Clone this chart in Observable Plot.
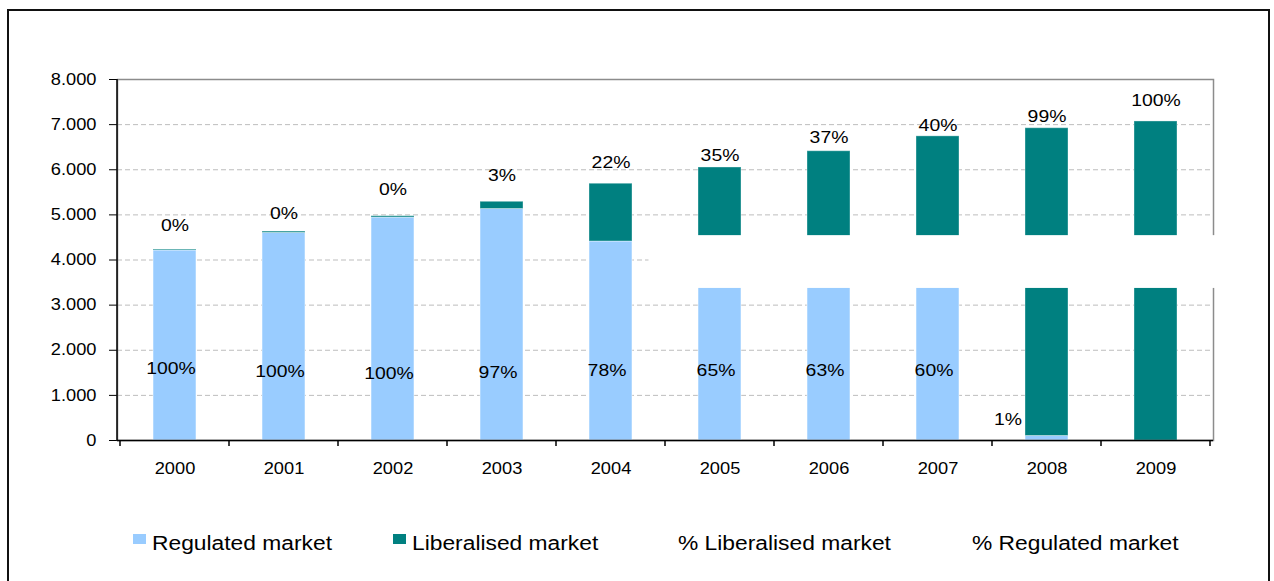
<!DOCTYPE html>
<html>
<head>
<meta charset="utf-8">
<script src="https://cdn.jsdelivr.net/npm/d3@7"></script>
<script src="https://cdn.jsdelivr.net/npm/@observablehq/plot@0.6"></script>
<style>
  body { margin: 0; background: #fff; font-family: "Liberation Sans", Arial, sans-serif; }
  #wrap { position: relative; width: 1274px; height: 581px; overflow: hidden; background: #fff; }
  #border { position: absolute; left: 7px; top: 9px; width: 1263px; height: 590px; border: 2px solid #111; box-sizing: border-box; }
  #chart { position: absolute; left: 0; top: 0; }
  .sw { position: absolute; width: 13px; height: 10px; top: 534px; }
  .lt { position: absolute; top: 533px; font-size: 20px; line-height: 20px; color: #000; white-space: nowrap;
        transform: scaleX(1.14); transform-origin: left center; }
</style>
</head>
<body>
<div id="wrap">
  <div id="border"></div>
  <div id="chart"></div>
  <div id="legend"></div>
</div>
<script>
// ---- data ----
const years = ["2000", "2001", "2002", "2003", "2004", "2005", "2006", "2007", "2008", "2009"];
const regulated   = [4210, 4600, 4940, 5130, 4410, 3930, 4040, 4040, 100, 0];
const liberalised = [20, 30, 30, 160, 1280, 2120, 2370, 2700, 6820, 7070];
const libShare = [0, 0, 0, 3, 22, 35, 37, 40, 99, 100];   // % Liberalised market
const regShare = [100, 100, 100, 97, 78, 65, 63, 60, 1, 0]; // % Regulated market
// values of the (invisible) percentage line series on which the labels sit
const libLabelPos = [4770, 5040, 5565, 5880, 6160, 6320, 6720, 6985, 7170, 7540];
const regLabelPos = [1600, 1530, 1490, 1510, 1550, 1550, 1550, 1550, 470, 470];
const yTicks = [0, 1000, 2000, 3000, 4000, 5000, 6000, 7000, 8000];
const axisBreak = [3370, 4540];          // scale break shown from 2005 on
const breakStartYear = "2005";
const seriesNames = ["Regulated market", "Liberalised market", "% Liberalised market", "% Regulated market"];
const seriesColors = ["#99CCFF", "#008080", null, null];

const rows = years.map((year, i) => ({
  year,
  reg: regulated[i],
  total: regulated[i] + liberalised[i],
  libShare: libShare[i],
  regShare: regShare[i],
  libPos: libLabelPos[i],
  regPos: regLabelPos[i]
}));

const fmt = d => d3.format(",")(d).replace(/,/g, ".");

const plot = Plot.plot({
  width: 1274,
  height: 500,
  marginLeft: 117,
  marginRight: 61,
  marginTop: 79,
  marginBottom: 60,
  style: { fontFamily: "'Liberation Sans', Arial, sans-serif", fontSize: "16px", color: "#000", background: "transparent", overflow: "visible" },
  x: { domain: years, paddingInner: 0.61, paddingOuter: 0.305, tickSize: 0, tickPadding: 22, label: null },
  y: { domain: [0, 8000], ticks: 8, tickSize: 8, tickPadding: 13, tickFormat: fmt, label: null },
  marks: [
    Plot.gridY(yTicks.filter(d => d > 0 && d < 8000), { stroke: "#bdbdbd", strokeOpacity: 1, strokeDasharray: "5,3", strokeWidth: 1 }),
    Plot.frame({ stroke: "#8c8c8c", strokeWidth: 1.5 }),
    Plot.barY(rows, { x: "year", y1: 0, y2: "reg", fill: "#99CCFF", stroke: "#ffffff", strokeOpacity: 0.5, strokeWidth: 1 }),
    Plot.barY(rows, { x: "year", y1: "reg", y2: "total", fill: "#008080", stroke: "#ffffff", strokeOpacity: 0.35, strokeWidth: 1 }),
    Plot.ruleY([0], { stroke: "#000", strokeWidth: 1.5 }),
    Plot.text(rows, { x: "year", y: "libPos", text: d => d.libShare + "%", fontSize: 17, fill: "#000" }),
    Plot.text(rows.filter(d => d.regShare >= 5), { x: "year", y: "regPos", text: d => d.regShare + "%", fontSize: 17, dx: -4, fill: "#000" }),
    Plot.text(rows.filter(d => d.regShare > 0 && d.regShare < 5), { x: "year", y: "regPos", text: d => d.regShare + "%", fontSize: 17, textAnchor: "end", dx: -25, fill: "#000" })
  ]
});

document.getElementById("chart").appendChild(plot);

// ---- decorations computed from the plot's own scales ----
const xs = plot.scale("x"), ys = plot.scale("y");
const svg = d3.select(plot);
const gap = xs.step - xs.bandwidth;
const [xLeft, xRight] = xs.range;
const yBottom = ys.apply(0), yTop = ys.apply(8000);

// white band of the scale break (2005 onward)
const prevYear = years[years.indexOf(breakStartYear) - 1];
const bx0 = xs.apply(prevYear) + xs.bandwidth + gap / 4;
svg.append("rect")
  .attr("x", bx0)
  .attr("y", ys.apply(axisBreak[1]))
  .attr("width", xRight + 2 - bx0)
  .attr("height", ys.apply(axisBreak[0]) - ys.apply(axisBreak[1]))
  .attr("fill", "#fff");

// black y axis line
svg.append("line")
  .attr("x1", xLeft).attr("x2", xLeft)
  .attr("y1", yTop).attr("y2", yBottom + 0.75)
  .attr("stroke", "#000").attr("stroke-width", 1.5);

// category boundary ticks on the x axis
const bounds = years.map(y => xs.apply(y) - gap / 2).concat([xs.apply(years[years.length - 1]) + xs.bandwidth + gap / 2]);
svg.append("g").selectAll("line").data(bounds).join("line")
  .attr("x1", d => d).attr("x2", d => d)
  .attr("y1", yBottom).attr("y2", yBottom + 6)
  .attr("stroke", "#000").attr("stroke-width", 1.5);

// horizontally stretched type, as in the reference
plot.querySelectorAll("text").forEach(t => {
  const len = t.getComputedTextLength();
  if (len > 0) {
    t.setAttribute("textLength", (len * 1.14).toFixed(2));
    t.setAttribute("lengthAdjust", "spacingAndGlyphs");
  }
});

// ---- legend ----
const legendLeft = [133, 393, 678, 972];
const legend = document.getElementById("legend");
seriesNames.forEach((name, i) => {
  let x = legendLeft[i];
  if (seriesColors[i]) {
    const sw = document.createElement("div");
    sw.className = "sw";
    sw.style.left = x + "px";
    sw.style.background = seriesColors[i];
    legend.appendChild(sw);
    x += 19;
  }
  const t = document.createElement("div");
  t.className = "lt";
  t.style.left = x + "px";
  t.textContent = name;
  legend.appendChild(t);
});
</script>
</body>
</html>
